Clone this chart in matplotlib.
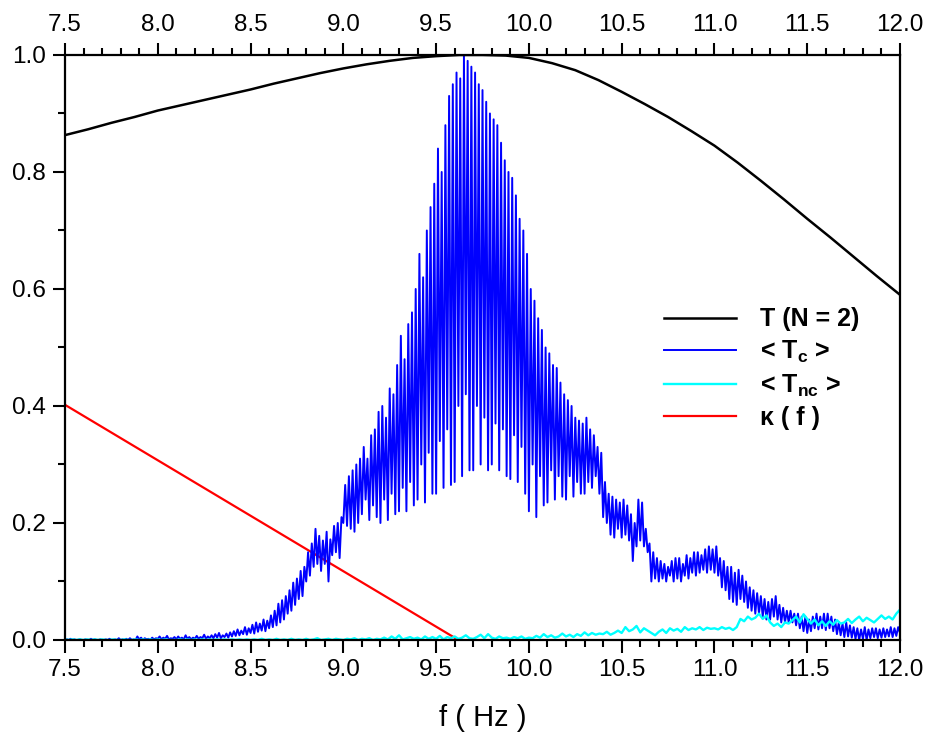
import numpy as np
import matplotlib
matplotlib.use("Agg")
import matplotlib.pyplot as plt
from matplotlib.ticker import MultipleLocator

plt.rcParams['font.family'] = ['Liberation Sans', 'DejaVu Sans']
plt.rcParams['mathtext.fontset'] = 'custom'
plt.rcParams['mathtext.rm'] = 'Liberation Sans:bold'
plt.rcParams['mathtext.bf'] = 'Liberation Sans:bold'

# T (N = 2), black curve
t_freq = [7.5, 7.625, 7.75, 7.875, 8.0, 8.125, 8.25, 8.375, 8.5, 8.625, 8.75, 8.875,
          9.0, 9.125, 9.25, 9.375, 9.5, 9.625, 9.75, 9.875, 10.0, 10.125, 10.25,
          10.375, 10.5, 10.625, 10.75, 10.875, 11.0, 11.125, 11.25, 11.375, 11.5,
          11.625, 11.75, 11.875, 12.0]
t_val = [0.863, 0.873, 0.884, 0.894, 0.905, 0.914, 0.923, 0.932, 0.941, 0.951, 0.960, 0.969,
         0.977, 0.984, 0.990, 0.995, 0.998, 1.000, 1.000, 0.999, 0.995, 0.986, 0.974,
         0.957, 0.937, 0.916, 0.894, 0.870, 0.845, 0.816, 0.785, 0.753, 0.720,
         0.688, 0.655, 0.622, 0.590]

# kappa(f), red straight line
kappa_freq = [7.5, 9.62]
kappa_val = [0.402, 0.0]

# <Tc>, blue, one value every 0.01 Hz from 7.5 to 12.0 (one row = 0.1 Hz)
tc_val = [
    0.000, 0.001, 0.000, 0.002, 0.000, 0.001, 0.000, 0.000, 0.001, 0.000,  # 7.5
    0.000, 0.001, 0.000, 0.000, 0.002, 0.000, 0.001, 0.000, 0.000, 0.001,  # 7.6
    0.000, 0.000, 0.001, 0.000, 0.002, 0.000, 0.000, 0.001, 0.000, 0.003,  # 7.7
    0.000, 0.001, 0.000, 0.002, 0.000, 0.003, 0.000, 0.001, 0.000, 0.006,  # 7.8
    0.001, 0.004, 0.000, 0.003, 0.001, 0.002, 0.000, 0.004, 0.001, 0.003,  # 7.9
    0.002, 0.006, 0.001, 0.004, 0.002, 0.007, 0.001, 0.003, 0.002, 0.005,  # 8.0
    0.001, 0.006, 0.002, 0.004, 0.001, 0.008, 0.002, 0.005, 0.001, 0.004,  # 8.1
    0.002, 0.007, 0.002, 0.005, 0.003, 0.009, 0.002, 0.006, 0.003, 0.008,  # 8.2
    0.003, 0.010, 0.004, 0.012, 0.003, 0.008, 0.005, 0.011, 0.004, 0.013,  # 8.3
    0.006, 0.015, 0.007, 0.018, 0.008, 0.016, 0.010, 0.022, 0.009, 0.020,  # 8.4
    0.012, 0.026, 0.011, 0.030, 0.014, 0.028, 0.016, 0.035, 0.015, 0.033,  # 8.5
    0.020, 0.042, 0.022, 0.050, 0.025, 0.062, 0.030, 0.068, 0.035, 0.075,  # 8.6
    0.045, 0.085, 0.050, 0.098, 0.060, 0.105, 0.070, 0.118, 0.075, 0.125,  # 8.7
    0.100, 0.150, 0.110, 0.165, 0.125, 0.190, 0.130, 0.178, 0.118, 0.170,  # 8.8
    0.130, 0.185, 0.100, 0.172, 0.145, 0.195, 0.150, 0.200, 0.140, 0.210,  # 8.9
    0.200, 0.265, 0.195, 0.280, 0.190, 0.290, 0.185, 0.300, 0.200, 0.310,  # 9.0
    0.215, 0.330, 0.240, 0.310, 0.205, 0.350, 0.230, 0.360, 0.210, 0.390,  # 9.1
    0.200, 0.400, 0.240, 0.380, 0.205, 0.430, 0.250, 0.420, 0.215, 0.470,  # 9.2
    0.220, 0.520, 0.260, 0.480, 0.220, 0.540, 0.270, 0.560, 0.230, 0.600,  # 9.3
    0.240, 0.660, 0.300, 0.620, 0.235, 0.700, 0.320, 0.740, 0.250, 0.780,  # 9.4
    0.250, 0.840, 0.340, 0.800, 0.260, 0.880, 0.360, 0.930, 0.265, 0.950,  # 9.5
    0.270, 0.970, 0.400, 0.960, 0.280, 1.000, 0.420, 0.990, 0.290, 0.980,  # 9.6
    0.290, 0.970, 0.400, 0.950, 0.300, 0.940, 0.380, 0.920, 0.290, 0.900,  # 9.7
    0.300, 0.890, 0.370, 0.880, 0.290, 0.850, 0.360, 0.820, 0.280, 0.800,  # 9.8
    0.275, 0.790, 0.350, 0.760, 0.270, 0.720, 0.330, 0.700, 0.250, 0.660,  # 9.9
    0.220, 0.600, 0.300, 0.580, 0.210, 0.550, 0.280, 0.530, 0.230, 0.500,  # 10.0
    0.235, 0.490, 0.290, 0.470, 0.240, 0.465, 0.280, 0.440, 0.245, 0.420,  # 10.1
    0.240, 0.410, 0.280, 0.400, 0.245, 0.380, 0.270, 0.375, 0.250, 0.370,  # 10.2
    0.250, 0.380, 0.270, 0.360, 0.260, 0.350, 0.280, 0.330, 0.250, 0.320,  # 10.3
    0.210, 0.270, 0.200, 0.250, 0.180, 0.245, 0.175, 0.240, 0.190, 0.235,  # 10.4
    0.175, 0.240, 0.180, 0.230, 0.170, 0.215, 0.135, 0.200, 0.160, 0.240,  # 10.5
    0.170, 0.235, 0.160, 0.190, 0.150, 0.165, 0.100, 0.150, 0.105, 0.140,  # 10.6
    0.100, 0.135, 0.105, 0.130, 0.100, 0.125, 0.110, 0.135, 0.100, 0.140,  # 10.7
    0.105, 0.140, 0.100, 0.130, 0.110, 0.145, 0.105, 0.140, 0.115, 0.150,  # 10.8
    0.110, 0.150, 0.115, 0.145, 0.120, 0.155, 0.115, 0.160, 0.120, 0.155,  # 10.9
    0.115, 0.160, 0.110, 0.140, 0.090, 0.135, 0.085, 0.125, 0.070, 0.125,  # 11.0
    0.065, 0.115, 0.060, 0.120, 0.070, 0.110, 0.065, 0.100, 0.055, 0.090,  # 11.1
    0.050, 0.085, 0.045, 0.080, 0.045, 0.075, 0.040, 0.070, 0.035, 0.065,  # 11.2
    0.035, 0.070, 0.040, 0.075, 0.035, 0.060, 0.030, 0.055, 0.030, 0.050,  # 11.3
    0.030, 0.050, 0.030, 0.045, 0.025, 0.045, 0.020, 0.040, 0.015, 0.040,  # 11.4
    0.012, 0.035, 0.015, 0.040, 0.020, 0.045, 0.018, 0.040, 0.020, 0.045,  # 11.5
    0.017, 0.045, 0.020, 0.040, 0.015, 0.035, 0.010, 0.030, 0.008, 0.028,  # 11.6
    0.005, 0.030, 0.006, 0.025, 0.004, 0.022, 0.002, 0.020, 0.000, 0.018,  # 11.7
    0.002, 0.022, 0.000, 0.018, 0.003, 0.020, 0.005, 0.020, 0.003, 0.018,  # 11.8
    0.004, 0.020, 0.005, 0.018, 0.006, 0.022, 0.005, 0.020, 0.007, 0.022,  # 11.9
    0.012,
]

# <Tnc>, cyan, one value every 0.02 Hz from 7.5 to 12.0
tnc_val = [
    0.001, 0.000, 0.001, 0.000, 0.001,  # 7.5
    0.000, 0.001, 0.000, 0.001, 0.000,  # 7.6
    0.001, 0.000, 0.000, 0.001, 0.000,  # 7.7
    0.000, 0.001, 0.000, 0.000, 0.001,  # 7.8
    0.000, 0.001, 0.000, 0.001, 0.000,  # 7.9
    0.001, 0.000, 0.001, 0.000, 0.000,  # 8.0
    0.000, 0.001, 0.000, 0.001, 0.000,  # 8.1
    0.001, 0.000, 0.001, 0.000, 0.001,  # 8.2
    0.000, 0.001, 0.000, 0.001, 0.000,  # 8.3
    0.001, 0.000, 0.001, 0.000, 0.001,  # 8.4
    0.000, 0.001, 0.000, 0.002, 0.000,  # 8.5
    0.001, 0.000, 0.002, 0.000, 0.001,  # 8.6
    0.000, 0.002, 0.000, 0.001, 0.000,  # 8.7
    0.002, 0.000, 0.001, 0.003, 0.000,  # 8.8
    0.001, 0.002, 0.000, 0.002, 0.001,  # 8.9
    0.000, 0.002, 0.001, 0.003, 0.000,  # 9.0
    0.002, 0.001, 0.003, 0.000, 0.002,  # 9.1
    0.001, 0.004, 0.001, 0.006, 0.002,  # 9.2
    0.008, 0.001, 0.003, 0.005, 0.002,  # 9.3
    0.004, 0.001, 0.006, 0.002, 0.005,  # 9.4
    0.002, 0.007, 0.001, 0.005, 0.003,  # 9.5
    0.006, 0.002, 0.004, 0.008, 0.003,  # 9.6
    0.002, 0.005, 0.009, 0.003, 0.010,  # 9.7
    0.004, 0.002, 0.006, 0.003, 0.004,  # 9.8
    0.002, 0.005, 0.003, 0.006, 0.002,  # 9.9
    0.004, 0.003, 0.007, 0.004, 0.010,  # 10.0
    0.005, 0.008, 0.004, 0.006, 0.011,  # 10.1
    0.006, 0.009, 0.005, 0.010, 0.007,  # 10.2
    0.013, 0.008, 0.012, 0.009, 0.011,  # 10.3
    0.010, 0.014, 0.009, 0.012, 0.016,  # 10.4
    0.012, 0.022, 0.015, 0.018, 0.024,  # 10.5
    0.013, 0.020, 0.016, 0.012, 0.008,  # 10.6
    0.014, 0.018, 0.012, 0.020, 0.016,  # 10.7
    0.019, 0.014, 0.022, 0.017, 0.020,  # 10.8
    0.018, 0.022, 0.017, 0.021, 0.019,  # 10.9
    0.020, 0.018, 0.022, 0.019, 0.021,  # 11.0
    0.017, 0.022, 0.036, 0.032, 0.040,  # 11.1
    0.035, 0.038, 0.045, 0.036, 0.042,  # 11.2
    0.030, 0.024, 0.028, 0.022, 0.030,  # 11.3
    0.028, 0.034, 0.040, 0.030, 0.044,  # 11.4
    0.036, 0.028, 0.035, 0.025, 0.032,  # 11.5
    0.024, 0.032, 0.026, 0.034, 0.028,  # 11.6
    0.030, 0.036, 0.029, 0.035, 0.040,  # 11.7
    0.032, 0.038, 0.034, 0.030, 0.036,  # 11.8
    0.042, 0.036, 0.040, 0.035, 0.045,  # 11.9
    0.052,
]

tc_freq = np.linspace(7.5, 12.0, len(tc_val))
tnc_freq = np.linspace(7.5, 12.0, len(tnc_val))

fig = plt.figure(figsize=(9.27, 7.33), dpi=100)
ax = fig.add_axes([0.0701, 0.1269, 0.9008, 0.7981])

l_red, = ax.plot(kappa_freq, kappa_val, color='#ff0000', lw=1.6)
l_blue, = ax.plot(tc_freq, tc_val, color='#0000ff', lw=1.4)
l_cyan, = ax.plot(tnc_freq, tnc_val, color='#00ffff', lw=1.7)
l_black, = ax.plot(t_freq, t_val, color='black', lw=1.8)

ax.set_xlim(7.5, 12.0)
ax.set_ylim(0.0, 1.0)
ax.xaxis.set_major_locator(MultipleLocator(0.5))
ax.xaxis.set_minor_locator(MultipleLocator(0.1))
ax.yaxis.set_major_locator(MultipleLocator(0.2))
ax.yaxis.set_minor_locator(MultipleLocator(0.1))
ax.xaxis.set_major_formatter(plt.FormatStrFormatter('%.1f'))
ax.yaxis.set_major_formatter(plt.FormatStrFormatter('%.1f'))

for s in ax.spines.values():
    s.set_linewidth(1.6)
ax.tick_params(which='both', direction='out', top=True, labeltop=True,
               right=False, labelsize=17.5, width=1.5)
ax.tick_params(which='major', length=9, pad=5)
ax.tick_params(which='minor', length=5)

ax.set_xlabel('f ( Hz )', fontsize=21, labelpad=16)

labels = ['T (N = 2)', r'< T$_{\mathregular{c}}$ >', r'< T$_{\mathregular{nc}}$ >', 'κ ( f )']
ax.legend([l_black, l_blue, l_cyan, l_red], labels, loc='upper left',
          bbox_to_anchor=(0.702, 0.590), frameon=False, borderpad=0,
          handlelength=2.9, handletextpad=0.95, labelspacing=0.3,
          prop={'weight': 'bold', 'size': 18})

fig.savefig('out.png', dpi=100)
